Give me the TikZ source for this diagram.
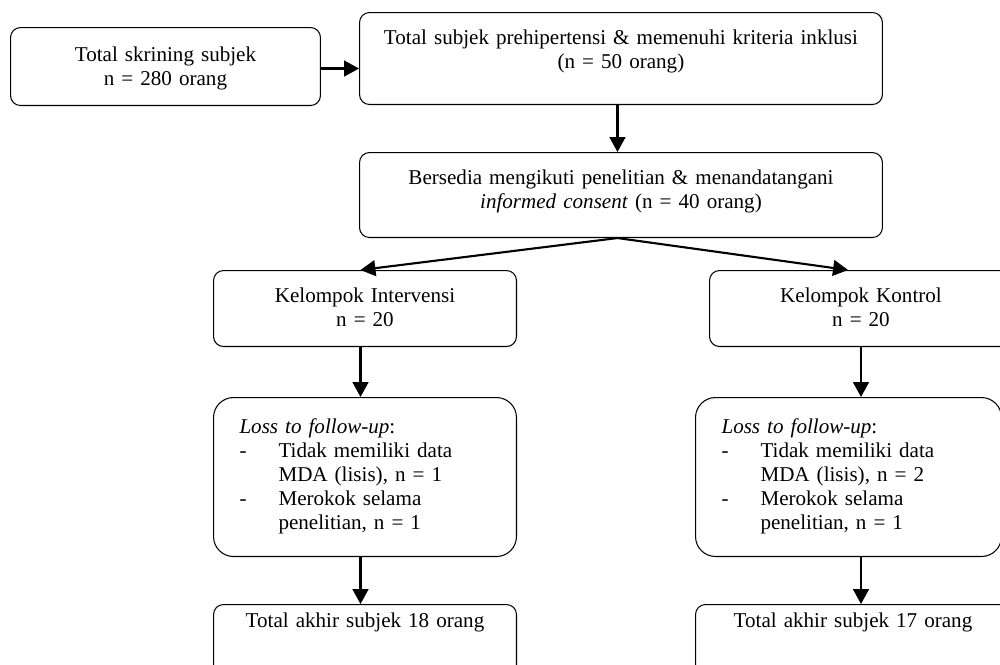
\documentclass[tikz,border=0pt]{standalone}
\usepackage{fontspec}
\setmainfont{Liberation Serif}
\usetikzlibrary{arrows.meta}
\newcommand{\itemdash}{\makebox[0.78cm][l]{-}}
\newcommand{\itemgap}{\hspace*{0.78cm}}
\begin{document}
\begin{tikzpicture}[x=0.02cm, y=-0.02cm,
    box/.style={draw, line width=0.6pt, rounded corners=0.2cm, inner sep=0pt,
      anchor=north west, align=center, font=\fontsize{12}{13.7}\selectfont},
    lossbox/.style={box, rounded corners=0.4cm, align=left, inner xsep=0.52cm,
      text height=0.72cm, text depth=2.46cm},
    flow/.style={-{Triangle[length=8.5pt, width=9pt]}, line width=1.2pt}]
  \path[use as bounding box] (0,0) rectangle (1000,664);
  \clip (0,0) rectangle (1000,664);
  \node[box, text width=6.2cm, text height=0.68cm, text depth=0.88cm] (skrining) at (10,27)
    {Total skrining subjek\\ n = 280 orang};
  \node[box, text width=10.46cm, text height=0.64cm, text depth=1.2cm] (prehip) at (359,12)
    {Total subjek prehipertensi \& memenuhi kriteria inklusi\\ (n = 50 orang)};
  \node[box, text width=10.46cm, text height=0.64cm, text depth=1.06cm] (bersedia) at (359,152)
    {Bersedia mengikuti penelitian \& menandatangani\\ \textit{informed consent} (n = 40 orang)};
  \node[box, text width=6.06cm, text height=0.64cm, text depth=0.88cm] (intervensi) at (213,270)
    {Kelompok Intervensi\\ n = 20};
  \node[box, text width=6.06cm, text height=0.64cm, text depth=0.88cm] (kontrol) at (709,270)
    {Kelompok Kontrol\\ n = 20};
  \node[lossbox, text width=5.02cm] (lossint) at (213,397)
    {\textit{Loss to follow-up}:\\
     \itemdash Tidak memiliki data\\ \itemgap MDA (lisis), n = 1\\
     \itemdash Merokok selama\\ \itemgap penelitian, n = 1};
  \node[lossbox, text width=5.08cm] (losskon) at (695,397)
    {\textit{Loss to follow-up}:\\
     \itemdash Tidak memiliki data\\ \itemgap MDA (lisis), n = 2\\
     \itemdash Merokok selama\\ \itemgap penelitian, n = 1};
  \node[box, text width=6.06cm, text height=0.46cm, text depth=1.06cm] (akhirint) at (213,604)
    {Total akhir subjek 18 orang};
  \node[box, text width=6.3cm, text height=0.46cm, text depth=1.06cm] (akhirkon) at (695,604)
    {Total akhir subjek 17 orang};
  \begin{scope}[flow]
    \draw ([yshift=-0.04cm]skrining.east) -- ([yshift=-0.04cm]skrining.east -| prehip.west);
    \draw ([xshift=-0.07cm]prehip.south) -- ([xshift=-0.07cm]bersedia.north);
    \draw ([xshift=-0.07cm]bersedia.south) -- ([xshift=-0.09cm]intervensi.north);
    \draw ([xshift=-0.07cm]bersedia.south) -- ([xshift=-0.26cm]kontrol.north);
    \draw ([xshift=-0.09cm]intervensi.south) -- ([xshift=-0.09cm]intervensi.south |- lossint.north);
    \draw (kontrol.south) -- (kontrol.south |- losskon.north);
    \draw ([xshift=-0.09cm]lossint.south) -- ([xshift=-0.09cm]lossint.south |- akhirint.north);
    \draw (kontrol.south |- losskon.south) -- (kontrol.south |- akhirkon.north);
  \end{scope}
\end{tikzpicture}
\end{document}
